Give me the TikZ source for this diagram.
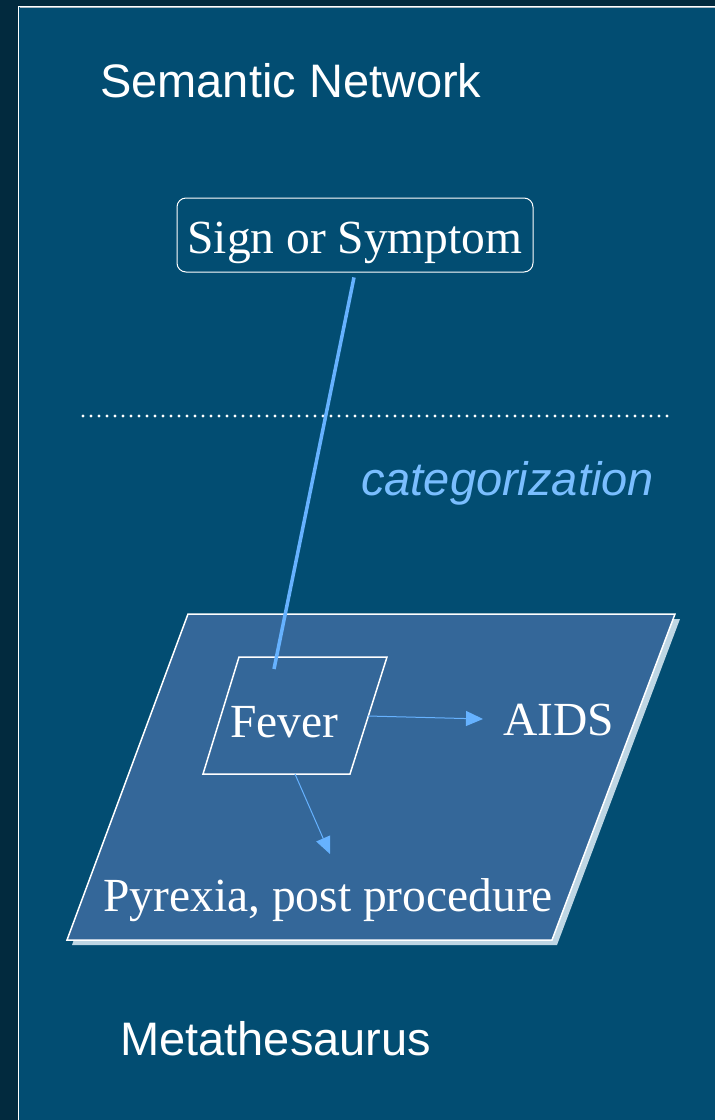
\documentclass[tikz,border=0pt]{standalone}
\usepackage{fontspec}
\setmainfont{Liberation Serif}
\setsansfont{Liberation Sans}
\usetikzlibrary{arrows.meta}
\definecolor{darkbg}{RGB}{2,42,62}
\definecolor{panel}{RGB}{2,77,114}
\definecolor{plane}{RGB}{52,103,153}
\definecolor{shadowc}{RGB}{190,214,228}
\definecolor{lblue}{RGB}{102,178,255}
\definecolor{ctext}{RGB}{122,190,255}
\definecolor{edgegrey}{RGB}{170,185,195}
\begin{document}
\begin{tikzpicture}[x=1pt,y=-1pt,
  sanslabel/.style={font=\sffamily\fontsize{47}{56}\selectfont, text=white, inner sep=0pt, anchor=base west},
  seriflabel/.style={font=\rmfamily\fontsize{47.5}{56}\selectfont, text=white, inner sep=0pt, anchor=base west},
  thinarrow/.style={draw=lblue, line width=1pt, -{Triangle[length=17pt,width=15pt]}},
  catline/.style={draw=lblue, line width=3.5pt},
  planeshape/.style={fill=plane, draw=white, line width=1.5pt, line join=miter},
  dotline/.style={draw=white, line width=3.4pt, line cap=round, dash pattern=on 0pt off 8pt}]
\useasboundingbox (0,0) rectangle (715,1120);
% backgrounds
\fill[darkbg] (0,0) rectangle (715,1120);
\fill[panel] (18,6) rectangle (715,1120);
\draw[edgegrey, line width=1pt] (19.5,7.5) -- (715,7.5);
\draw[white, line width=1.2pt] (18.6,1120) -- (18.6,6.6) -- (715,6.6);
% titles
\node[sanslabel] (title) at (100,97) {Semantic Network};
\node[sanslabel] (meta) at (120,1055) {Metathesaurus};
% sign or symptom box
\node[draw=white, line width=1pt, rounded corners=9pt, minimum width=356pt, minimum height=74pt,
      inner sep=0pt, text height=46pt, text depth=10pt,
      font=\rmfamily\fontsize{47.5}{56}\selectfont, text=white] (sos) at (355,235) {Sign or Symptom};
% dotted separator
\coordinate (dotL) at (83,416);
\coordinate (dotR) at (667,416);
\draw[dotline] (dotL) -- (dotR);
% categorization label
\node[sanslabel, font=\sffamily\itshape\fontsize{47}{56}\selectfont, text=ctext] (categ) at (361,495) {categorization};
% Metathesaurus plane with shadow
\fill[shadowc] (193,619) -- (680,619) -- (557,945) -- (72,945) -- cycle;
\draw[planeshape] (188,614) -- (675,614) -- (552,940) -- (67,940) -- cycle;
% Fever parallelogram
\draw[white, line width=1.5pt, line join=miter] (239,657) -- (387,657) -- (350,774) -- (203,774) -- cycle;
\node[seriflabel] (fever) at (230,737) {Fever};
\node[seriflabel] (aids) at (503,735) {AIDS};
\node[seriflabel] (pyrexia) at (103,911) {Pyrexia, post procedure};
% connector points
\coordinate (feverTop) at (274,669);
\coordinate (feverR) at (368,716);
\coordinate (feverB) at (295,774);
\coordinate (pyrTip) at (330,854);
% connectors
\draw[catline, shorten <=5pt] (sos.south) -- (feverTop);
\draw[thinarrow, shorten >=20pt] (feverR) -- (aids.west);
\draw[thinarrow] (feverB) -- (pyrTip);
\end{tikzpicture}
\end{document}
